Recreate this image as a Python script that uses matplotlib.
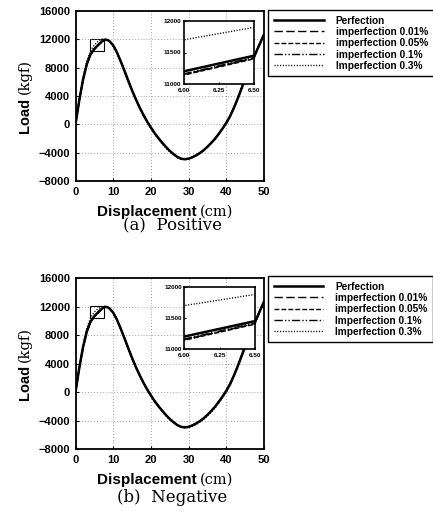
import matplotlib.pyplot as plt
from matplotlib.patches import Rectangle

# displacement (cm) and load (kgf)
disp = [0, 1, 2, 3, 4, 5, 6, 6.5, 7, 7.5, 8, 8.5, 9, 10, 11, 12, 13, 14, 15, 16,
        17, 18, 19, 20, 21, 22, 23, 24, 25, 26, 27, 28, 29, 30, 31, 32, 33, 34,
        35, 36, 37, 38, 39, 40, 41, 42, 43, 44, 45, 46, 47, 48, 49, 50]

perfection = [0, 3400, 6300, 8500, 9900, 10650, 11200, 11450, 11700, 11900, 11950, 11900,
              11750, 11150, 10150, 8900, 7550, 6150, 4800, 3550, 2400, 1350, 400, -450,
              -1250, -1950, -2600, -3200, -3750, -4200, -4600, -4850, -4930, -4850, -4650,
              -4380, -4050, -3650, -3170, -2630, -2040, -1350, -600, 200, 1150, 2300, 3600,
              5000, 6400, 7750, 9050, 10300, 11500, 12700]
imp_001 = [0, 3390, 6280, 8470, 9860, 10600, 11150, 11410, 11670, 11880, 11940, 11900,
           11750, 11160, 10160, 8910, 7560, 6160, 4810, 3560, 2410, 1360, 410, -440,
           -1240, -1940, -2590, -3190, -3740, -4190, -4590, -4840, -4920, -4840, -4640,
           -4370, -4040, -3640, -3160, -2620, -2030, -1340, -590, 210, 1160, 2310, 3610,
           5010, 6410, 7760, 9060, 10310, 11510, 12710]
imp_005 = [0, 3385, 6270, 8460, 9850, 10590, 11140, 11400, 11660, 11870, 11935, 11895,
           11745, 11155, 10155, 8905, 7555, 6155, 4805, 3555, 2405, 1355, 405, -445,
           -1245, -1945, -2595, -3195, -3745, -4195, -4595, -4845, -4925, -4845, -4645,
           -4375, -4045, -3645, -3165, -2625, -2035, -1345, -595, 205, 1155, 2305, 3605,
           5005, 6405, 7755, 9055, 10305, 11505, 12705]
imp_01 = [0, 3395, 6290, 8480, 9870, 10610, 11160, 11420, 11680, 11890, 11945, 11900,
          11750, 11150, 10150, 8900, 7550, 6150, 4800, 3550, 2400, 1350, 400, -450,
          -1250, -1950, -2600, -3200, -3750, -4200, -4600, -4850, -4930, -4850, -4650,
          -4380, -4050, -3650, -3170, -2630, -2040, -1350, -600, 200, 1150, 2300, 3600,
          5000, 6400, 7750, 9050, 10300, 11500, 12700]
imp_03_pos = [0, 3550, 6650, 8900, 10400, 11200, 11700, 11900, 12030, 12060, 12000, 11880,
              11680, 11030, 10000, 8750, 7400, 6000, 4650, 3400, 2250, 1200, 250, -600,
              -1400, -2100, -2750, -3350, -3880, -4320, -4680, -4900, -4960, -4880, -4670,
              -4390, -4050, -3640, -3150, -2600, -2000, -1300, -550, 250, 1200, 2350, 3650,
              5050, 6450, 7800, 9100, 10350, 11550, 12750]
imp_03_neg = [0, 3550, 6700, 8950, 10450, 11250, 11700, 11880, 12000, 12050, 12000, 11890,
              11700, 11060, 10050, 8800, 7450, 6050, 4700, 3450, 2300, 1250, 300, -550,
              -1350, -2050, -2700, -3300, -3850, -4300, -4680, -4920, -5000, -4950, -4780,
              -4520, -4200, -3800, -3330, -2800, -2200, -1520, -780, 20, 950, 2100, 3400,
              4800, 6200, 7550, 8850, 10100, 11300, 12500]

labels_pos = ['Perfection', 'imperfection 0.01%', 'imperfection 0.05%',
              'imperfection 0.1%', 'Imperfection 0.3%']
labels_neg = ['Perfection', 'imperfection 0.01%', 'imperfection 0.05%',
              'Imperfection 0.1%', 'Imperfection 0.3%']

xticks = [0, 10, 20, 30, 40, 50]
yticks = [-8000, -4000, 0, 4000, 8000, 12000, 16000]
in_xticks = [6.00, 6.25, 6.50]
in_yticks = [11000, 11500, 12000]

styles = [dict(ls='-', lw=1.8),
          dict(ls=(0, (6, 2.5)), lw=1.0),
          dict(ls=(0, (3.5, 1.5)), lw=1.0),
          dict(ls=(0, (6, 1.5, 1, 1.5, 1, 1.5)), lw=1.0),
          dict(ls=(0, (0.8, 1.2)), lw=1.0)]

W, H = 433, 511
plt.rcParams['font.family'] = ['Liberation Sans', 'DejaVu Sans']
plt.rcParams['font.weight'] = 'bold'

fig = plt.figure(figsize=(W / 100, H / 100), dpi=100)


def box(x0, y0, x1, y1):
    # pixel box (from top-left) -> figure fraction
    return [x0 / W, 1 - y1 / H, (x1 - x0) / W, (y1 - y0) / H]


def panel(main_box, inset_box, leg_xy, series, labels, caption, ylab_y, xlab_y, cap_y):
    ax = fig.add_axes(main_box)
    lines = []
    for s, st in zip(series, styles):
        ln, = ax.plot(disp, s, color='k', **st)
        lines.append(ln)
    ax.set_xlim(0, 50)
    ax.set_ylim(-8000, 16000)
    ax.set_xticks(xticks)
    ax.set_yticks(yticks)
    ax.grid(True, color='0.5', lw=0.6, ls=(0, (1, 2.5)))
    ax.tick_params(direction='in', length=2, labelsize=8, pad=4)
    for sp in ax.spines.values():
        sp.set_linewidth(1.3)
    ax.add_patch(Rectangle((3.9, 10400), 3.65, 1650, fill=False, ec='k', lw=0.8))

    ins = fig.add_axes(inset_box)
    for s, st in zip(series, styles):
        ins.plot(disp, s, color='k', **st)
    ins.set_xlim(6.0, 6.5)
    ins.set_ylim(11000, 12000)
    ins.set_xticks(in_xticks)
    ins.set_xticklabels(['%.2f' % v for v in in_xticks])
    ins.set_yticks(in_yticks)
    ins.tick_params(direction='in', length=1.5, labelsize=4.6, pad=1.5)
    ins.tick_params(axis='x', pad=3)
    for sp in ins.spines.values():
        sp.set_linewidth(1.2)

    leg = fig.legend(lines, labels, loc='upper left',
                     bbox_to_anchor=(leg_xy[0] / W, 1 - leg_xy[1] / H),
                     fontsize=7.3, handlelength=4.9, handletextpad=1.2,
                     labelspacing=0.13, borderpad=0.55, borderaxespad=0,
                     fancybox=False, framealpha=1, edgecolor='k')
    leg.get_frame().set_linewidth(1.0)

    fig.text(25 / W, 1 - (ylab_y + 19) / H, 'Load', rotation=90, fontsize=10.5,
             ha='center', va='center')
    fig.text(25 / W, 1 - (ylab_y - 19) / H, '(kgf)', rotation=90, fontsize=10.5,
             family='DejaVu Serif', weight='normal', ha='center', va='center')
    fig.text(197 / W, 1 - xlab_y / H, 'Displacement', fontsize=11,
             ha='right', va='center')
    fig.text(200 / W, 1 - xlab_y / H, '(cm)', fontsize=10.5, family='DejaVu Serif',
             weight='normal', ha='left', va='center')
    fig.text(172.5 / W, 1 - cap_y / H, caption, fontsize=12, family='DejaVu Serif',
             weight='normal', ha='center', va='center')


panel(box(75.5, 11, 264, 181), box(183.5, 21, 254.3, 84), (268.3, 10),
      [perfection, imp_001, imp_005, imp_01, imp_03_pos], labels_pos,
      '(a)  Positive', 96, 212, 226)
panel(box(75.5, 278, 264, 449.3), box(184, 287, 255, 349), (268, 276),
      [perfection, imp_001, imp_005, imp_01, imp_03_neg], labels_neg,
      '(b)  Negative', 363.5, 480, 498)

fig.savefig('out.png', dpi=100)
